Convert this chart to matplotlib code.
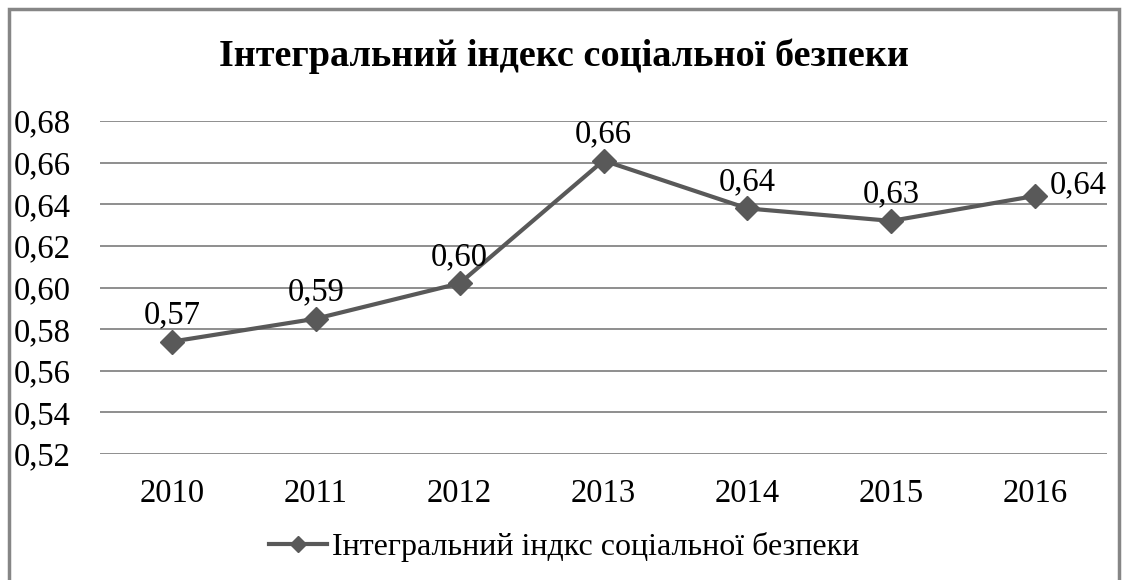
import matplotlib.pyplot as plt
from matplotlib.patches import Rectangle

years = ["2010", "2011", "2012", "2013", "2014", "2015", "2016"]
values = [0.574, 0.585, 0.602, 0.661, 0.638, 0.632, 0.644]
labels = ["0,57", "0,59", "0,60", "0,66", "0,64", "0,63", "0,64"]
yticks = [0.52, 0.54, 0.56, 0.58, 0.60, 0.62, 0.64, 0.66, 0.68]
title = "Інтегральний індекс соціальної безпеки"
series_name = "Інтегральний індкс соціальної безпеки"

plt.rcParams["font.family"] = ["Liberation Serif", "DejaVu Serif"]

fig = plt.figure(figsize=(11.28, 5.8), dpi=100)
ax = fig.add_axes([100 / 1128, 1 - 454 / 580, 1007 / 1128, 333 / 580])

x = list(range(len(years)))
ax.plot(x, values, color="#595959", lw=3, marker="D", markersize=12,
        label=series_name, zorder=3)

for i, (v, s) in enumerate(zip(values, labels)):
    if i == len(values) - 1:
        ax.annotate(s, (i, v), xytext=(31, 8), textcoords="offset points",
                    ha="center", va="center", fontsize=23.5)
    else:
        ax.annotate(s, (i, v), xytext=(0, 19), textcoords="offset points",
                    ha="center", va="center", fontsize=23.5)

ax.set_xlim(-0.5, len(years) - 0.5)
ax.set_ylim(0.52, 0.68)
ax.set_yticks(yticks)
ax.set_yticklabels([f"{t:.2f}".replace(".", ",") for t in yticks])
ax.set_xticks(x)
ax.set_xticklabels(years)
ax.tick_params(length=0, labelsize=23.5)
ax.tick_params(axis="y", pad=21)
ax.tick_params(axis="x", pad=18)
ax.grid(axis="y", color="#868686", lw=1.3)
ax.set_axisbelow(True)
for sp in ax.spines.values():
    sp.set_visible(False)

fig.text(0.5, 1 - 56 / 580, title, ha="center", va="center",
         fontsize=27.5, fontweight="bold")

leg = fig.legend(loc="center", bbox_to_anchor=(0.5, 1 - 547 / 580),
                 frameon=False, fontsize=23, handlelength=1.8,
                 handletextpad=0.15, markerscale=0.7)

fig.patches.append(Rectangle((9 / 1128, -0.01), 1110 / 1128, 1 - 9 / 580 + 0.01,
                             transform=fig.transFigure, fill=False,
                             edgecolor="#868686", lw=2.5))

fig.savefig("out.png", dpi=100)
